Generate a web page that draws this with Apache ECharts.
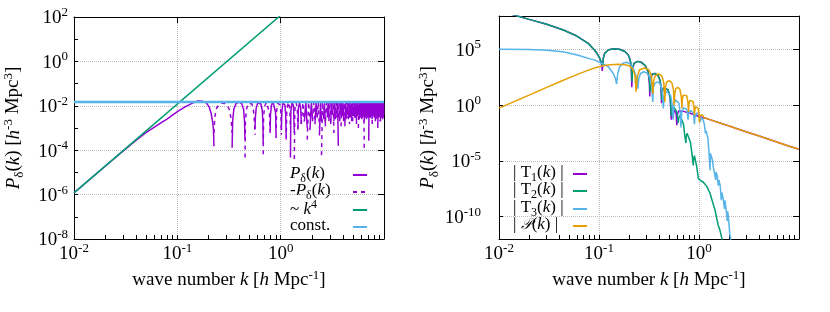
<!DOCTYPE html>
<html><head><meta charset="utf-8">
<script src="https://cdn.jsdelivr.net/npm/echarts@6/dist/echarts.min.js"></script>
<style>html,body{margin:0;padding:0;background:#fff}#c{width:830px;height:312px}</style>
</head><body><div id="c"></div><script>
// ---------- LEFT PANEL DATA (k [h/Mpc], P) ----------
const pdPositive = [
 [0.01,1.2e-6],[0.02,1.9e-5],[0.03,9.3e-5],[0.04,2.8e-4],[0.05,6.3e-4],[0.06,1.1e-3],[0.07,1.75e-3],[0.08,2.6e-3],[0.1,5.5e-3],[0.12,9.2e-3],[0.14,0.0133],[0.158,0.0165],[0.175,0.016],[0.191,0.0135],[0.203,0.009],[0.212,4.7e-3],[0.22,1.8e-3],[0.224,8e-4],[0.226,1.5e-4],null,
 [0.339,1.3e-4],[0.343,2e-3],[0.352,7e-3],[0.37,0.0125],[0.395,0.0148],[0.42,0.0125],[0.438,7e-3],[0.447,2e-3],[0.452,3e-4],null,
 [0.565,9e-4],[0.569,3e-3],[0.58,8e-3],[0.6,0.0135],[0.62,0.0145],[0.645,0.012],[0.664,6e-3],[0.674,1.5e-3],[0.678,2e-4],null,
 [0.791,7.5e-4],[0.797,4e-3],[0.815,0.011],[0.845,0.0145],[0.875,0.012],[0.893,5e-3],[0.904,3.5e-4],null,
 [1.017,8e-4],[1.025,5e-3],[1.05,0.013],[1.075,0.0145],[1.1,0.011],[1.12,4e-3],[1.13,4e-4],null,
 [1.243,4.7e-5],[1.255,6e-3],[1.29,0.0145],[1.33,0.01],[1.356,6e-4],null,
 [1.469,1e-3],[1.485,8e-3],[1.525,0.014],[1.565,7e-3],[1.582,1.5e-3],null,
 [1.695,2e-3],[1.75,0.014],[1.808,1e-3],null,
 [1.921,8e-4],[1.98,0.0135],[2.034,2.5e-3],null,
 [2.147,1.5e-3],[2.2,0.014],[2.26,3e-3],null,
 [2.373,4.6e-4],[2.43,0.0145],[2.486,2e-3],null,
 [2.599,2.5e-3],[2.65,0.013],[2.712,1.2e-3],null,
 [2.825,3e-3],[2.88,0.0145],[2.938,2e-3],null,
 [3.051,1.5e-3],[3.1,0.014],[3.164,4e-3],null,
 [3.277,2e-3],[3.33,0.015],[3.39,3e-3],null,
 [3.503,3e-3],[3.56,0.014],[3.616,1.6e-4],null,
 [3.729,2.5e-3],[3.79,0.0145],[3.842,4e-3],null,
 [3.955,3.5e-3],[4.01,0.014],[4.068,2e-3],null,
 [4.181,1.2e-3],[4.24,0.015],[4.294,3e-3],null,
 [4.407,4e-3],[4.46,0.0145],[4.52,2.5e-3],null,
 [4.633,3e-3],[4.69,0.014],[4.746,4e-3],null,
 [4.859,2e-3],[4.91,0.015],[4.972,3.5e-3],null,
 [5.085,4e-3],[5.14,0.0145],[5.198,3e-3],null,
 [5.311,3e-3],[5.37,0.014],[5.424,1.5e-3],null,
 [5.537,3.5e-3],[5.59,0.015],[5.65,4e-3],null,
 [5.763,2.5e-3],[5.82,0.0145],[5.876,3e-3],null,
 [5.989,4e-3],[6.04,0.014],[6.102,2.5e-3],null,
 [6.215,3e-3],[6.27,0.015],[6.328,4e-3],null,
 [6.441,2e-3],[6.5,0.0145],[6.554,3e-3],null,
 [6.667,3.5e-3],[6.72,0.014],[6.78,4e-3],null,
 [6.893,4e-3],[6.95,0.015],[7.006,3e-3],null,
 [7.119,2.7e-4],[7.17,0.0145],[7.232,3.5e-3],null,
 [7.345,3e-3],[7.4,0.014],[7.458,4e-3],null,
 [7.571,4e-3],[7.63,0.015],[7.684,2.5e-3],null,
 [7.797,3e-3],[7.85,0.0145],[7.91,4e-3],null,
 [8.023,3.5e-3],[8.08,0.014],[8.136,3e-3],null,
 [8.249,2e-3],[8.3,0.015],[8.362,4e-3],null,
 [8.475,4e-3],[8.53,0.0145],[8.588,3e-3],null,
 [8.701,1e-3],[8.76,0.014],[8.814,3.5e-3],null,
 [8.927,3e-3],[8.98,0.015],[9.04,4e-3],null,
 [9.153,4e-3],[9.21,0.0145],[9.266,2e-3],null,
 [9.379,3e-3],[9.43,0.014],[9.492,4e-3],null,
 [9.605,3.5e-3],[9.66,0.015],[9.718,3e-3],null,
 [9.831,3e-3],[9.9,0.0145],[9.96,4e-3]
];
const pdNegative = [
 [0.226,6e-4],[0.23,3e-3],[0.24,8e-3],[0.26,0.0125],[0.28,0.0135],[0.3,0.0115],[0.318,7e-3],[0.332,2.5e-3],[0.339,6e-4],null,
 [0.452,4.7e-5],[0.456,2e-3],[0.468,7.5e-3],[0.488,0.013],[0.508,0.0145],[0.528,0.012],[0.546,6e-3],[0.558,2e-3],[0.565,5e-4],null,
 [0.678,6.6e-5],[0.683,3e-3],[0.698,9e-3],[0.728,0.0145],[0.758,0.012],[0.778,5e-3],[0.791,6e-4],null,
 [0.904,1e-3],[0.914,6e-3],[0.937,0.013],[0.962,0.0145],[0.99,0.011],[1.008,4e-3],[1.017,5e-4],null,
 [1.13,3e-4],[1.145,6e-3],[1.185,0.0145],[1.225,8e-3],[1.243,1e-3],null,
 [1.356,4e-5],[1.37,6e-3],[1.41,0.014],[1.45,8e-3],[1.469,8e-4],null,
 [1.582,1.5e-3],[1.64,0.014],[1.695,2e-3],null,
 [1.808,3e-4],[1.86,0.0145],[1.921,3e-3],null,
 [2.034,2e-3],[2.09,0.014],[2.147,2.5e-3],null,
 [2.26,3e-3],[2.31,0.015],[2.373,1e-3],null,
 [2.486,6e-5],[2.54,0.0145],[2.599,3e-3],null,
 [2.712,2e-3],[2.77,0.014],[2.825,4e-3],null,
 [2.938,3e-3],[2.99,0.015],[3.051,2e-3],null,
 [3.164,4e-3],[3.22,0.0145],[3.277,6e-4],null,
 [3.39,2.5e-3],[3.45,0.014],[3.503,3.5e-3],null,
 [3.616,3e-3],[3.67,0.015],[3.729,2e-3],null,
 [3.842,1.2e-3],[3.9,0.0145],[3.955,3e-3],null,
 [4.068,3.5e-3],[4.12,0.014],[4.181,4e-3],null,
 [4.294,2.5e-3],[4.35,0.015],[4.407,3e-3],null,
 [4.52,4e-3],[4.58,0.0145],[4.633,1.5e-3],null,
 [4.746,3e-3],[4.8,0.014],[4.859,4e-3],null,
 [4.972,2e-3],[5.03,0.015],[5.085,3.5e-3],null,
 [5.198,4e-3],[5.25,0.0145],[5.311,2.5e-3],null,
 [5.424,3e-3],[5.48,0.014],[5.537,4e-3],null,
 [5.65,1e-3],[5.71,0.015],[5.763,3e-3],null,
 [5.876,4e-3],[5.93,0.0145],[5.989,2.5e-3],null,
 [6.102,3e-3],[6.16,0.014],[6.215,4e-3],null,
 [6.328,3.5e-3],[6.38,0.015],[6.441,9e-5],null,
 [6.554,4e-3],[6.61,0.0145],[6.667,3e-3],null,
 [6.78,2.5e-3],[6.84,0.014],[6.893,4e-3],null,
 [7.006,3e-3],[7.06,0.015],[7.119,3.5e-3],null,
 [7.232,4e-3],[7.29,0.0145],[7.345,2e-3],null,
 [7.458,3e-3],[7.51,0.014],[7.571,4e-3],null,
 [7.684,1.5e-3],[7.74,0.015],[7.797,3e-3],null,
 [7.91,4e-3],[7.97,0.0145],[8.023,3.5e-3],null,
 [8.136,3e-3],[8.19,0.014],[8.249,4e-3],null,
 [8.362,2.5e-3],[8.42,0.015],[8.475,3e-3],null,
 [8.588,4e-3],[8.64,0.0145],[8.701,3.5e-3],null,
 [8.814,3e-3],[8.87,0.014],[8.927,4e-3],null,
 [9.04,3.5e-3],[9.1,0.015],[9.153,2e-3],null,
 [9.266,4e-3],[9.32,0.0145],[9.379,3e-3],null,
 [9.492,3e-3],[9.55,0.014],[9.605,4e-3],null,
 [9.718,2.5e-3],[9.77,0.015],[9.831,3.5e-3]
];
const k4Line = [[0.01,1.2e-6],[1.0,120]];
const constLine = [[0.01,0.015],[10,0.015]];

// ---------- RIGHT PANEL DATA ----------
const t1Abs = [
 [0.01,3e8],[0.02,5e7],[0.03,1.8e7],[0.044,5.5e6],[0.06,1.6e6],[0.078,3.5e5],[0.09,9e4],[0.0954,4.5e4],[0.102,1.5e4],[0.106,5e3],[0.108,1.2e3],
 [0.11,1.5e4],[0.114,4.5e4],[0.125,9.5e4],[0.14,1.15e5],[0.16,1.05e5],[0.18,7e4],[0.195,3.5e4],[0.205,1.2e4],[0.21,2e3],[0.213,40],
 [0.216,2e3],[0.225,6e3],[0.245,8.5e3],[0.265,7e3],[0.29,3.5e3],[0.31,1e3],[0.319,80],[0.322,6],
 [0.326,180],[0.34,600],[0.363,700],[0.39,450],[0.41,150],[0.419,10],[0.422,1.5],
 [0.426,12],[0.44,35],[0.46,40],[0.49,25],[0.515,5],[0.528,0.05],
 [0.535,0.3],[0.545,0.5],[0.553,0.07],[0.56,0.4],[0.575,0.37],[0.59,0.2],[0.6,0.016],[0.61,0.15],[0.625,0.3],[0.645,0.32],
 [0.7,0.28],[0.8,0.2],[0.9,0.14],[1.0,0.098],[1.1,0.075],[1.2,0.063],[1.5,0.032],[2,0.0135],[3,4e-3],[4,1.7e-3],[6,5e-4],[8,2.1e-4],[10,1.1e-4]
];
const t2Abs = [
 [0.01,3e8],[0.02,5e7],[0.03,1.8e7],[0.044,5.5e6],[0.06,1.6e6],[0.078,3.5e5],[0.09,9e4],[0.0954,4.5e4],[0.102,1.6e4],[0.106,6e3],[0.109,3e3],
 [0.111,2e4],[0.115,5e4],[0.125,9.5e4],[0.14,1.15e5],[0.16,1.05e5],[0.18,7e4],[0.195,3.5e4],[0.205,1.2e4],[0.211,3e3],[0.214,130],
 [0.217,2.5e3],[0.225,6e3],[0.245,8.5e3],[0.265,7e3],[0.29,3.5e3],[0.31,1e3],[0.32,150],[0.324,16],
 [0.327,200],[0.34,600],[0.363,700],[0.39,450],[0.41,150],[0.42,20],[0.424,3],
 [0.428,15],[0.44,35],[0.46,40],[0.49,25],[0.515,5],[0.53,0.1],
 [0.535,0.4],[0.55,0.8],[0.575,0.7],[0.6,0.25],[0.62,0.025],
 [0.625,0.06],[0.645,0.12],[0.665,0.1],[0.7,0.02],[0.72,2e-3],[0.74,4e-4],
 [0.745,1.5e-3],[0.76,3e-3],[0.78,3e-3],[0.82,5e-4],[0.86,2e-5],[0.877,4e-6],
 [0.885,1.5e-5],[0.9,3e-5],[0.915,3e-5],[0.95,3e-6],[0.985,2.7e-7],
 [1.0,2e-7],[1.05,1.6e-7],[1.1,1.3e-7],[1.2,5e-8],[1.29,1.2e-8],[1.445,4e-10],[1.55,2e-11],[1.62,6e-12],[1.7,1e-12],[1.8,1e-13]
];
const t3Abs = [
 [0.01,1.05e5],[0.02,1e5],[0.03,8.5e4],[0.045,6e4],[0.062,3e4],[0.08,1.5e4],[0.091,1.1e4],[0.11,5e3],[0.124,2.8e3],[0.139,700],[0.146,250],[0.15,80],
 [0.154,700],[0.161,2.8e3],[0.175,6e3],[0.19,7e3],[0.205,5e3],[0.22,2e3],[0.235,400],[0.245,30],
 [0.25,250],[0.26,700],[0.28,1000],[0.3,800],[0.32,350],[0.335,60],[0.345,2],
 [0.35,40],[0.365,100],[0.39,120],[0.41,80],[0.43,15],[0.44,0.5],
 [0.45,8],[0.47,18],[0.49,20],[0.52,8],[0.54,1],[0.55,0.05],
 [0.56,1],[0.58,3],[0.6,3.5],[0.63,1.5],[0.65,0.2],[0.66,0.01],
 [0.67,0.2],[0.7,0.6],[0.73,0.7],[0.76,0.4],[0.775,0.05],
 [0.785,0.15],[0.82,0.35],[0.85,0.37],[0.88,0.2],[0.9,0.02],
 [0.91,0.08],[0.95,0.2],[1.0,0.15],[1.03,0.03],
 [1.05,0.08],[1.1,0.05],[1.13,0.02],[1.16,3e-3],
 [1.18,5e-3],[1.2,4e-3],[1.23,1e-3],[1.26,5e-5],[1.29,1.5e-6],
 [1.3,5e-5],[1.33,6e-5],[1.37,1e-5],[1.38,4e-6],
 [1.4,5e-6],[1.43,3e-6],[1.47,2e-7],
 [1.48,1e-6],[1.52,5e-7],[1.56,6e-8],
 [1.58,2e-7],[1.63,6e-8],[1.67,3e-9],
 [1.69,1.5e-8],[1.74,5e-9],[1.8,5e-10],
 [1.82,3e-9],[1.86,6e-10],[1.92,4e-11],
 [1.94,3e-10],[1.98,5e-11],[2.03,3e-12],[2.1,5e-13]
];
const pAbs = [
 [0.01,0.55],[0.02,8],[0.03,40],[0.04,120],[0.05,280],[0.06,550],[0.075,1200],[0.09,2200],[0.11,3500],[0.13,4300],[0.155,4600],[0.18,4300],[0.2,3500],[0.215,2000],[0.228,600],[0.235,16],
 [0.242,400],[0.255,1500],[0.285,2200],[0.315,1500],[0.335,400],[0.345,10],
 [0.352,150],[0.365,450],[0.395,630],[0.425,420],[0.445,100],[0.455,2],
 [0.462,40],[0.475,120],[0.505,160],[0.535,100],[0.555,25],[0.565,1],
 [0.572,10],[0.585,30],[0.615,40],[0.645,25],[0.665,6],[0.675,0.5],
 [0.682,3.5],[0.695,8],[0.725,11],[0.755,7],[0.775,2],[0.785,0.25],
 [0.792,1.2],[0.81,2.6],[0.84,3.2],[0.87,2.2],[0.89,0.7],[0.9,0.13],
 [0.91,0.4],[0.925,0.75],[0.955,0.9],[0.985,0.5],[1.0,0.15],[1.01,0.03],
 [1.02,0.12],[1.05,0.16],[1.08,0.14],[1.12,0.075],[1.2,0.063],[1.5,0.032],[2,0.0135],[3,4e-3],[4,1.7e-3],[6,5e-4],[8,2.1e-4],[10,1.1e-4]
];

// axis ranges and tick values
const kRange = [0.01, 10];
const leftYRange = [1e-8, 1e2];
const rightYRange = [1e-12, 1e8];
const kMajor = [0.01, 0.1, 1];
const kTicks = [0.01,0.02,0.03,0.04,0.05,0.06,0.07,0.08,0.09,0.1,0.2,0.3,0.4,0.5,0.6,0.7,0.8,0.9,1,2,3,4,5,6,7,8,9];
const leftYMajor = [1e-8,1e-6,1e-4,1e-2,1,1e2];
const leftYTicks = [1e-8,1e-7,1e-6,1e-5,1e-4,1e-3,1e-2,1e-1,1,1e1,1e2];
const rightYMajor = [1e-10,1e-5,1,1e5];

// legend rows: [series name, label, text x, row centre y, sample x]
const legendRows = [
  ['P',    '{h|-}{i|P}{sub|δ}{n|(}{i|k}{n|)}',   284.3, 175, 352],
  ['-P',   '{n|-}{i|P}{sub|δ}{n|(}{i|k}{n|)}',   290, 192, 352],
  ['k4',   '{n|~ }{i|k}{sup|4}',                 290, 210, 352],
  ['const','{n|const.}',                         290, 227, 352],
  ['T1',   '{n|| T}{sub|1}{n|(}{i|k}{n|) |}',    513, 174, 572],
  ['T2',   '{n|| T}{sub|2}{n|(}{i|k}{n|) |}',    513, 191, 572],
  ['T3',   '{n|| T}{sub|3}{n|(}{i|k}{n|) |}',    513, 209, 572],
  ['PP',   '{n|| }{cal|𝒫}{n|(}{i|k}{n|) |}',     513, 226, 572]
];

const PURPLE='#9400d3', GREEN='#009e73', BLUE='#56b4e9', ORANGE='#e69f00';
const F = 'Liberation Serif';

function mkRich(sz, ssz, up, dn){
  return {
    n:{fontFamily:F,fontSize:sz,color:'#000',fill:'#000',verticalAlign:'bottom',padding:[0,0,dn,0]},
    h:{fontFamily:F,fontSize:sz,color:'rgba(0,0,0,0)',fill:'rgba(0,0,0,0)',opacity:0,verticalAlign:'bottom',padding:[0,0,dn,0]},
    i:{fontFamily:F,fontSize:sz,color:'#000',fill:'#000',fontStyle:'italic',verticalAlign:'bottom',padding:[0,0,dn,0]},
    sup:{fontFamily:F,fontSize:ssz,color:'#000',fill:'#000',verticalAlign:'bottom',padding:[0,0,up,0]},
    sub:{fontFamily:F,fontSize:ssz,color:'#000',fill:'#000',verticalAlign:'bottom',padding:[0,0,0,0]},
    cal:{fontFamily:'DejaVu Sans',fontSize:sz-2,color:'#000',fill:'#000',fontStyle:'italic',verticalAlign:'bottom',padding:[0,0,dn,0]}
  };
}
const titleRich = mkRich(19, 13, 11, 3);
const legRich = mkRich(17, 12, 10, 3);
const tickRich = {
  b:{fontFamily:F,fontSize:19,color:'#000',verticalAlign:'bottom'},
  s:{fontFamily:F,fontSize:13,color:'#000',verticalAlign:'bottom',padding:[0,0,9,0]}
};
function pow10(v){ const e=Math.round(Math.log10(v)); return '{b|10}{s|'+e+'}'; }

function prep(arr){ return arr.map(p => p===null ? ['-','-'] : p); }

const grids = [
  {left:74, top:17, width:310, height:222},
  {left:499, top:16, width:300, height:223}
];
const AXC = '#000';
function xAx(g, bottom){
  return {type:'log', logBase:10, gridIndex:g, position: bottom?'bottom':'top', min:kRange[0], max:kRange[1],
    axisLine:{show:true,onZero:false,lineStyle:{color:AXC,width:1}},
    axisTick:{show:true,inside:true,length:bottom?4:6,lineStyle:{color:AXC}, customValues: bottom?kTicks:kMajor},
    axisLabel:{show:bottom,formatter:pow10,rich:tickRich,margin:3,customValues:kMajor},
    splitLine:{show:!bottom,lineStyle:{color:'#bbb',type:'dotted'}},
    name: bottom ? '{n|wave number }{i|k}{n| [}{i|h}{n| Mpc}{sup|-1}{n|]}' : '',
    nameLocation:'middle', nameGap:25, nameTextStyle:{rich:titleRich}};
}
function yAx(g, left, range, major, ticks, margin, gap){
  return {type:'log', logBase:10, gridIndex:g, position:left?'left':'right', min:range[0], max:range[1],
    axisLine:{show:true,onZero:false,lineStyle:{color:AXC,width:1}},
    axisTick:{show:true,inside:true,length:left?4:6,lineStyle:{color:AXC}, customValues: left?ticks:major},
    axisLabel:{show:left,formatter:pow10,rich:tickRich,margin:margin,customValues:major},
    splitLine:{show:!left,lineStyle:{color:'#bbb',type:'dotted'}},
    name: left ? '{i|P}{sub|δ}{n|(}{i|k}{n|) [}{i|h}{sup|-3}{n| Mpc}{sup|3}{n|]}' : '',
    nameLocation:'middle', nameGap:gap, nameRotate:90, nameTextStyle:{rich:titleRich}};
}

function line(name, data, xi, yi, color, width, dashed){
  return {name:name, type:'line', xAxisIndex:xi, yAxisIndex:yi, data:prep(data), symbol:'none',
    connectNulls:false, animation:false, clip:true,
    lineStyle:{color:color,width:width,type:dashed?[4,4]:'solid'}, itemStyle:{color:color}};
}

// legend: one component per row for the line samples, labels as rich text placed at fixed x
const legends = legendRows.map(r => ({
  data:[r[0]], left:r[4], top:r[3]-5, orient:'vertical', align:'left', selectedMode:false,
  itemWidth:14, itemHeight:10, padding:0, itemGap:0, itemStyle:{opacity:0},
  formatter:()=>'', textStyle:{fontSize:1}
}));
const labels = legendRows.map(r => ({
  type:'text', x:r[2], y:r[3], silent:true,
  style:{text:r[1], rich:legRich, align:'left', verticalAlign:'middle'}
}));

const option = {
  animation:false,
  backgroundColor:'#fff',
  grid: grids,
  xAxis:[xAx(0,true), xAx(1,true), xAx(0,false), xAx(1,false)],
  yAxis:[yAx(0,true,leftYRange,leftYMajor,leftYTicks,6,48), yAx(1,true,rightYRange,rightYMajor,rightYMajor,18,52),
         yAx(0,false,leftYRange,leftYMajor,leftYTicks,6,0), yAx(1,false,rightYRange,rightYMajor,rightYMajor,6,0)],
  legend: legends,
  graphic: labels,
  series:[
    line('P', pdPositive, 0,0, PURPLE,1.5,false),
    line('-P', pdNegative, 0,0, PURPLE,1.5,true),
    line('k4', k4Line, 0,0, GREEN,1.5,false),
    line('const', constLine, 0,0, BLUE,2.5,false),
    line('T1', t1Abs, 1,1, PURPLE,1.5,false),
    line('T2', t2Abs, 1,1, GREEN,1.5,false),
    line('T3', t3Abs, 1,1, BLUE,1.5,false),
    line('PP', pAbs, 1,1, ORANGE,1.5,false)
  ]
};
const chart = echarts.init(document.getElementById('c'), null, {renderer:'canvas'});
chart.setOption(option);
</script></body></html>
